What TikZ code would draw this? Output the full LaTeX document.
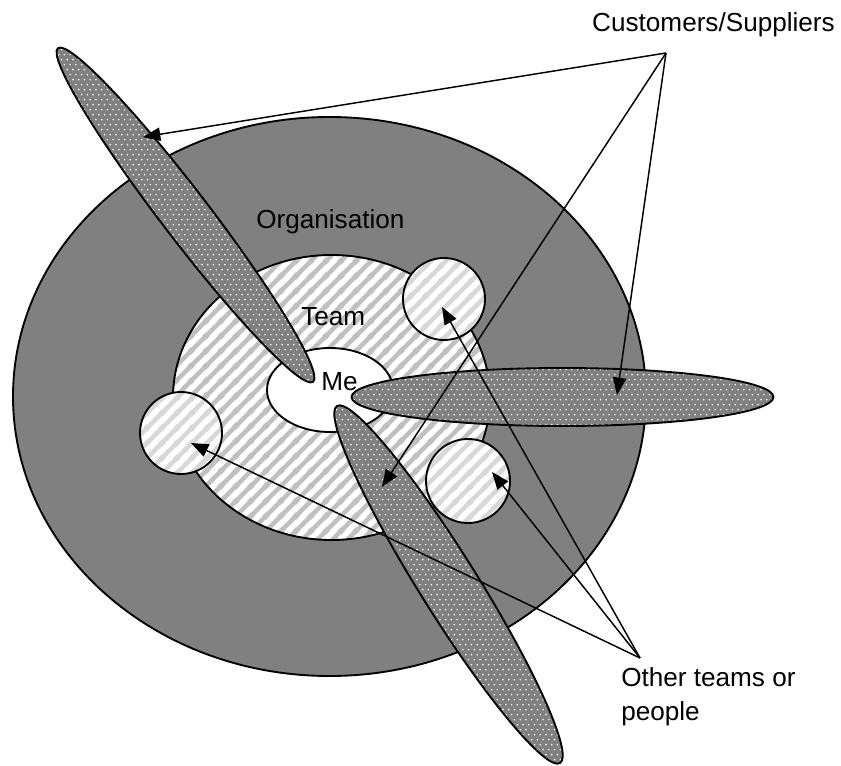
\documentclass[tikz,border=0pt]{standalone}
\usepackage{fontspec}
\setmainfont{Liberation Sans}
\usetikzlibrary{patterns,arrows.meta}

% light dots on a staggered grid
\pgfdeclarepatternformonly{lightdots}{\pgfqpoint{-1pt}{-1pt}}{\pgfqpoint{5.3pt}{8.5pt}}{\pgfqpoint{4.3pt}{7.5pt}}{%
  \pgfpathcircle{\pgfqpoint{1pt}{1pt}}{0.7pt}%
  \pgfpathcircle{\pgfqpoint{3.15pt}{4.75pt}}{0.7pt}%
  \pgfusepath{fill}}

% wide diagonal stripes
\pgfdeclarepatternformonly{widestripes}{\pgfqpoint{0pt}{0pt}}{\pgfqpoint{11pt}{11pt}}{\pgfqpoint{11pt}{11pt}}{%
  \pgfsetlinewidth{3.4pt}%
  \pgfpathmoveto{\pgfqpoint{-1pt}{-1pt}}\pgfpathlineto{\pgfqpoint{12pt}{12pt}}%
  \pgfpathmoveto{\pgfqpoint{-2pt}{9pt}}\pgfpathlineto{\pgfqpoint{2pt}{13pt}}%
  \pgfpathmoveto{\pgfqpoint{9pt}{-2pt}}\pgfpathlineto{\pgfqpoint{13pt}{2pt}}%
  \pgfusepath{stroke}}

\definecolor{orggray}{HTML}{808080}
\definecolor{teamstripe}{HTML}{C0C0C0}
\definecolor{unitstripe}{HTML}{D8D8D8}
\definecolor{dotwhite}{HTML}{F0F0F0}

\begin{document}
\begin{tikzpicture}[x=0.75pt,y=-0.75pt,
  outline/.style={draw=black, line width=1.4pt},
  org/.style={outline, fill=orggray},
  team/.style={outline, preaction={fill=white}, pattern=widestripes, pattern color=teamstripe},
  unit/.style={outline, preaction={fill=white}, pattern=widestripes, pattern color=unitstripe},
  self/.style={outline, fill=white},
  cigar/.style={outline, preaction={fill=orggray}, pattern=lightdots, pattern color=dotwhite},
  label/.style={font=\fontsize{19.6}{25.5}\selectfont, inner sep=0pt},
  pointer/.style={draw=black, line width=1.1pt, -{Triangle[length=13pt,width=10pt]}}]

\path[use as bounding box, fill=white] (0,0) rectangle (841,766);

% nested circles of the organisation
\path[org]  (329.5,396.5) ellipse [x radius=316.5, y radius=279.5];
\path[team] (331.5,397.5) ellipse [x radius=158.5, y radius=142.5];
\path[self] (330,390) ellipse [x radius=63, y radius=42];

% other teams or people
\path[unit] (444,299) circle [radius=41];
\path[unit] (181,433) circle [radius=41];
\path[unit] (468,481) circle [radius=42];

% customers and suppliers reaching in
\begin{scope}[shift={(185.5,215)}, rotate=-52.6]
  \path[cigar] (0,0) ellipse [x radius=210, y radius=24];
\end{scope}
\begin{scope}[shift={(448.5,584.5)}, rotate=-58]
  \path[cigar] (0,0) ellipse [x radius=210.5, y radius=29];
\end{scope}
\path[cigar] (562.5,397) ellipse [x radius=211, y radius=29];

% labels
\node[label, anchor=base west] (orglabel) at (256,229) {Organisation};
\node[label, anchor=base west] (teamlabel) at (301,325) {Team};
\node[label, anchor=base west] (melabel) at (321,390) {Me};
\node[label, anchor=base] (custlabel) at (713.5,32) {Customers/Suppliers};
\node[label, anchor=north west, align=left] (otherlabel) at (621,667) {Other teams or\\people};

% arrow origins and targets
\coordinate (custsrc) at (666,53);
\coordinate (custA) at (143,137);
\coordinate (custB) at (617,395);
\coordinate (custC) at (382,487);
\coordinate (othsrc) at (640,658);
\coordinate (othA) at (191,443);
\coordinate (othB) at (442,307);
\coordinate (othC) at (492,472);

\draw[pointer] (custsrc) -- (custA);
\draw[pointer] (custsrc) -- (custB);
\draw[pointer] (custsrc) -- (custC);
\draw[pointer] (othsrc) -- (othA);
\draw[pointer] (othsrc) -- (othB);
\draw[pointer] (othsrc) -- (othC);
\end{tikzpicture}
\end{document}
